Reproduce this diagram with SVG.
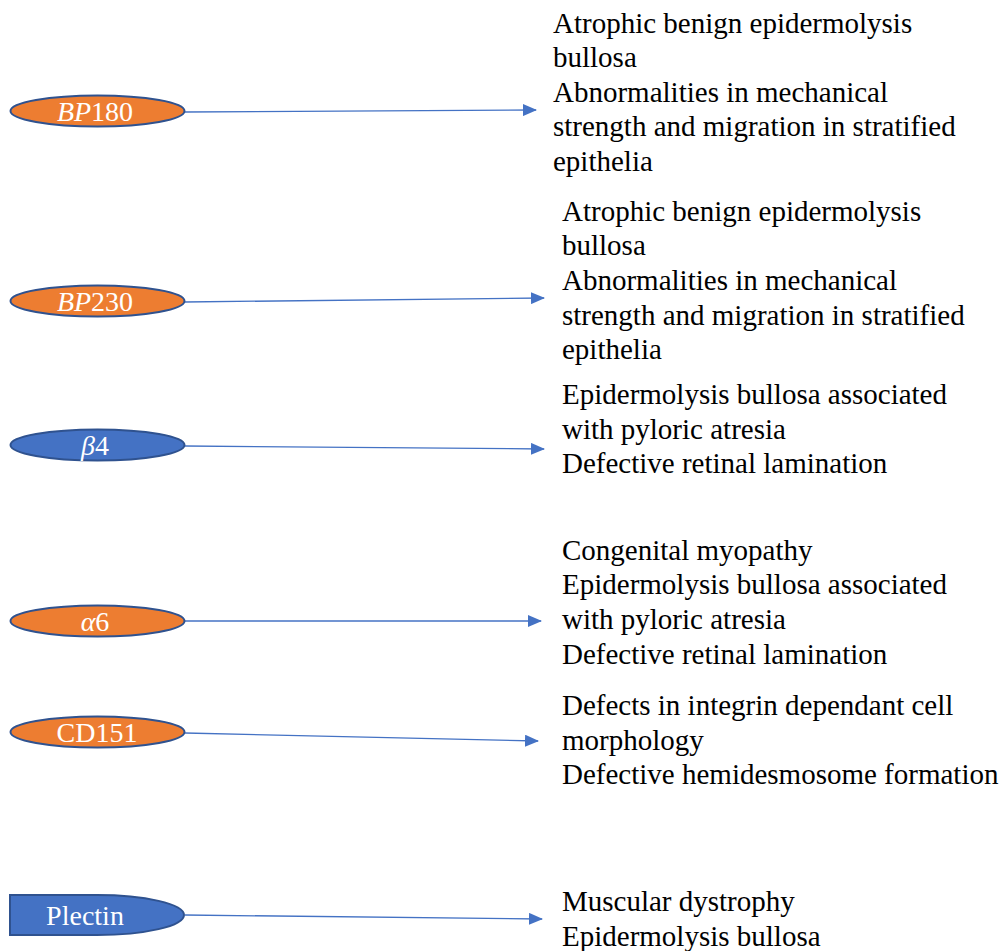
<svg xmlns="http://www.w3.org/2000/svg" width="1002" height="951" viewBox="0 0 1002 951">
<defs>
<style>
.o{fill:#ED7D31;stroke:#2F528F;stroke-width:2}
.b{fill:#4472C4;stroke:#2F528F;stroke-width:2}
.lbl{font-family:"Liberation Serif",serif;font-size:28px;fill:#fff;text-anchor:middle}
.t{font-family:"Liberation Serif",serif;font-size:29px;fill:#000}
.c{stroke:#4472C4;stroke-width:1.3;fill:none;marker-end:url(#ah)}
</style>
<marker id="ah" markerWidth="14" markerHeight="12" refX="13" refY="6" orient="auto" markerUnits="userSpaceOnUse">
<path d="M0,0 L14,6 L0,12 Z" fill="#4472C4"/>
</marker>
</defs>
<rect width="1002" height="951" fill="#fff"/>
<g id="connectors">
<line class="c" x1="185" y1="112" x2="536" y2="110"/>
<line class="c" x1="185" y1="302" x2="544" y2="298"/>
<line class="c" x1="185" y1="446" x2="544" y2="449"/>
<line class="c" x1="185" y1="621" x2="541" y2="621"/>
<line class="c" x1="185" y1="733" x2="538" y2="741"/>
<line class="c" x1="185" y1="915" x2="542" y2="919"/>
</g>
<g id="node-bp180">
<ellipse class="o" cx="97.5" cy="111" rx="87" ry="15.5"/>
<text class="lbl" x="95" y="121"><tspan font-style="italic">BP</tspan>180</text>
</g>
<g id="node-bp230">
<ellipse class="o" cx="97.5" cy="301" rx="87" ry="15.5"/>
<text class="lbl" x="95" y="311"><tspan font-style="italic">BP</tspan>230</text>
</g>
<g id="node-b4">
<ellipse class="b" cx="97.5" cy="445" rx="87" ry="15.5"/>
<text class="lbl" x="95" y="455"><tspan font-style="italic">β</tspan>4</text>
</g>
<g id="node-a6">
<ellipse class="o" cx="97.5" cy="621" rx="87" ry="15.5"/>
<text class="lbl" x="95" y="631"><tspan font-style="italic">α</tspan>6</text>
</g>
<g id="node-cd151">
<ellipse class="o" cx="97.5" cy="732" rx="87" ry="15.5"/>
<text class="lbl" x="97" y="742">CD151</text>
</g>
<g id="node-plectin">
<path class="b" d="M10,895 L97,895 A87,20 0 0 1 97,935 L10,935 Z"/>
<text class="lbl" x="85" y="925">Plectin</text>
</g>
<g id="text-1" class="t">
<text x="553" y="33">Atrophic benign epidermolysis</text>
<text x="553" y="67">bullosa</text>
<text x="553" y="102">Abnormalities in mechanical</text>
<text x="553" y="136">strength and migration in stratified</text>
<text x="553" y="171">epithelia</text>
</g>
<g id="text-2" class="t">
<text x="562" y="221">Atrophic benign epidermolysis</text>
<text x="562" y="255">bullosa</text>
<text x="562" y="290">Abnormalities in mechanical</text>
<text x="562" y="325">strength and migration in stratified</text>
<text x="562" y="359">epithelia</text>
</g>
<g id="text-3" class="t">
<text x="562" y="404">Epidermolysis bullosa associated</text>
<text x="562" y="439">with pyloric atresia</text>
<text x="562" y="473">Defective retinal lamination</text>
</g>
<g id="text-4" class="t">
<text x="562" y="560">Congenital myopathy</text>
<text x="562" y="594">Epidermolysis bullosa associated</text>
<text x="562" y="629">with pyloric atresia</text>
<text x="562" y="664">Defective retinal lamination</text>
</g>
<g id="text-5" class="t">
<text x="562" y="715">Defects in integrin dependant cell</text>
<text x="562" y="750">morphology</text>
<text x="562" y="784">Defective hemidesmosome formation</text>
</g>
<g id="text-6" class="t">
<text x="562" y="911">Muscular dystrophy</text>
<text x="562" y="946">Epidermolysis bullosa</text>
</g>
</svg>
